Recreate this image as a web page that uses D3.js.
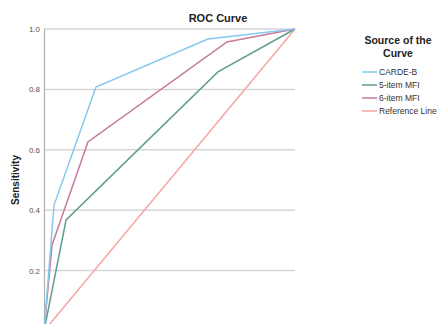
<!DOCTYPE html>
<html>
<head>
<meta charset="utf-8">
<script src="https://cdn.jsdelivr.net/npm/d3@7"></script>
<style>
  html, body { margin: 0; padding: 0; background: #fff; }
  svg { display: block; font-family: "Liberation Sans", Arial, sans-serif; }
</style>
</head>
<body>
<svg id="chart" width="437" height="324"></svg>
<script>
// ROC curves: (1 - specificity, sensitivity) pairs for each source
const seriesNames = ["CARDE-B", "5-item MFI", "6-item MFI", "Reference Line"];
const seriesColors = ["#86c8f0", "#5f9c90", "#c7799a", "#f8a5a5"];
const cardeB_fpr = [0, 0.04, 0.207, 0.653, 1];
const cardeB_tpr = [0, 0.417, 0.808, 0.967, 1];
const mfi5_fpr = [0, 0.088, 0.693, 1];
const mfi5_tpr = [0, 0.368, 0.858, 1];
const mfi6_fpr = [0, 0.032, 0.175, 0.729, 1];
const mfi6_tpr = [0, 0.285, 0.626, 0.957, 1];
const ref_fpr = [0, 1];
const ref_tpr = [0, 1];
const yTicks = [0.2, 0.4, 0.6, 0.8, 1.0];

const svg = d3.select("#chart");
const x = d3.scaleLinear().domain([0, 1]).range([44, 295]);
const y = d3.scaleLinear().domain([0, 1]).range([331, 29]);

// horizontal gridlines
svg.append("g").selectAll("line").data(yTicks).join("line")
  .attr("x1", x(0)).attr("x2", x(1))
  .attr("y1", d => y(d)).attr("y2", d => y(d))
  .attr("stroke", "#d6d6d6").attr("stroke-width", 1.5);

// y axis
const yAxis = d3.axisLeft(y).tickValues(yTicks).tickFormat(d3.format(".1f")).tickSize(0).tickPadding(4);
const ag = svg.append("g").attr("transform", `translate(${x(0)},0)`).call(yAxis);
ag.select(".domain").attr("stroke", "#b0b0b0").attr("stroke-width", 1.2);
ag.selectAll("text").attr("font-size", 8).attr("fill", "#555")
  .attr("font-family", "\"Liberation Sans\", Arial, sans-serif");

// axis title
svg.append("text")
  .attr("transform", `translate(19,${y(0.5)}) rotate(-90)`)
  .attr("text-anchor", "middle")
  .attr("font-size", 10).attr("font-weight", "bold").attr("fill", "#222")
  .text("Sensitivity");

// chart title
svg.append("text")
  .attr("x", 218).attr("y", 22)
  .attr("text-anchor", "middle")
  .attr("font-size", 11).attr("font-weight", "bold").attr("fill", "#222")
  .text("ROC Curve");

// curves
const series = [
  { fpr: cardeB_fpr, tpr: cardeB_tpr },
  { fpr: mfi5_fpr, tpr: mfi5_tpr },
  { fpr: mfi6_fpr, tpr: mfi6_tpr },
  { fpr: ref_fpr, tpr: ref_tpr }
];
const line = d3.line().x(d => x(d[0])).y(d => y(d[1]));
// draw reference first so it sits beneath the curves
[3, 1, 2, 0].forEach(i => {
  const s = series[i];
  svg.append("path")
    .datum(s.fpr.map((f, j) => [f, s.tpr[j]]))
    .attr("d", line)
    .attr("fill", "none")
    .attr("stroke", seriesColors[i])
    .attr("stroke-width", 1.5)
    .attr("stroke-linejoin", "miter");
});

// legend
const lg = svg.append("g");
lg.append("text").attr("x", 398).attr("y", 44).attr("text-anchor", "middle")
  .attr("font-size", 10.5).attr("font-weight", "bold").attr("fill", "#222").text("Source of the");
lg.append("text").attr("x", 398).attr("y", 57).attr("text-anchor", "middle")
  .attr("font-size", 10.5).attr("font-weight", "bold").attr("fill", "#222").text("Curve");
const items = lg.selectAll("g.item").data(seriesNames).join("g")
  .attr("class", "item")
  .attr("transform", (d, i) => `translate(0,${72 + i * 13})`);
items.append("line").attr("x1", 362).attr("x2", 377).attr("y1", 0).attr("y2", 0)
  .attr("stroke", (d, i) => seriesColors[i]).attr("stroke-width", 1.5);
items.append("text").attr("x", 379).attr("y", 3).attr("font-size", 8.5).attr("fill", "#333").text(d => d);
</script>
</body>
</html>
